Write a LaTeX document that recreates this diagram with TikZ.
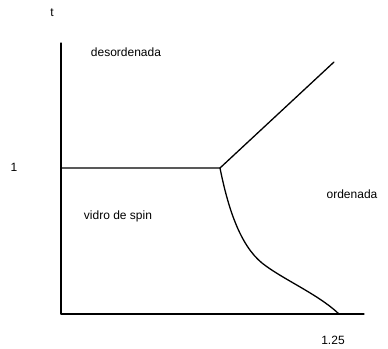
\documentclass[tikz,border=0pt]{standalone}
\usepackage{fontspec}
\setmainfont{Liberation Sans}
\begin{document}
\begin{tikzpicture}[x=1pt,y=-1pt,
  lbl/.style={font=\fontsize{12}{14}\selectfont, inner sep=0pt},
  ln/.style={line width=1.3pt, line join=round, line cap=round}]
\useasboundingbox (0,0) rectangle (388,348);
\coordinate (o) at (61,314);
\coordinate (ytop) at (61,43);
\coordinate (xend) at (364,314);
\coordinate (y1) at (61,168);
\coordinate (tp) at (220,168);
\coordinate (up) at (334,62);
\coordinate (low) at (339,314);
\draw[ln] (ytop) -- (o) -- (xend);
\draw[ln] (y1) -- (tp) -- (up);
\draw[ln] (tp) .. controls (228,208) and (240,245) .. (262,263)
  .. controls (282,279) and (318,294) .. (low);
\node[lbl] (t) at (52,13) {t};
\node[lbl] (des) at (126,52) {desordenada};
\node[lbl] (one) at (14,167) {1};
\node[lbl] (vid) at (118,216) {vidro de spin};
\node[lbl] (ord) at (352,194) {ordenada};
\node[lbl] (x125) at (333,340) {1.25};
\end{tikzpicture}
\end{document}
